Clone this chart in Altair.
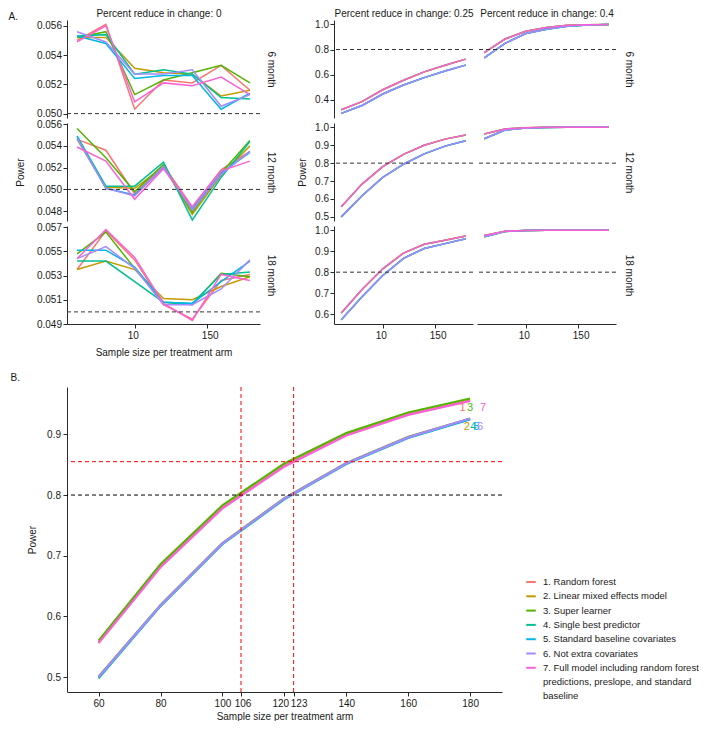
import altair as alt
import pandas as pd

FONT = "Liberation Sans"
INK = "#1a1a1a"
AXIS_INK = "#2b2b2b"

# ---------------- shared categories ----------------
sample_sizes = [60, 80, 100, 120, 140, 160, 180]
model_names = [
    "1. Random forest",
    "2. Linear mixed effects model",
    "3. Super learner",
    "4. Single best predictor",
    "5. Standard baseline covariates",
    "6. Not extra covariates",
    "7. Full model including random forest",
]
legend_continuation = ["predictions, preslope, and standard", "baseline"]
model_tags = ["1", "2", "3", "4", "5", "6", "7"]
model_colors = ["#F8766D", "#C49A00", "#53B400", "#00C094", "#00B6EB", "#A58AFF", "#FB61D7"]
period_labels = ["6 month", "12 month", "18 month"]
reduction_titles = [
    "Percent reduce in change: 0",
    "Percent reduce in change: 0.25",
    "Percent reduce in change: 0.4",
]
panel_tags = ["A.", "B."]

# ---------------- A, column 1: percent reduce in change 0 (one list per model) ----------------
power_r0_6m = [
    [0.0550, 0.0561, 0.0503, 0.0523, 0.0521, 0.0533, 0.0516],
    [0.0552, 0.0552, 0.0531, 0.0528, 0.0527, 0.0512, 0.0516],
    [0.0552, 0.0556, 0.0513, 0.0523, 0.0528, 0.0533, 0.0521],
    [0.0553, 0.0554, 0.0527, 0.0530, 0.0527, 0.0511, 0.0510],
    [0.0553, 0.0548, 0.0524, 0.0526, 0.0526, 0.0503, 0.0514],
    [0.0556, 0.0549, 0.0527, 0.0527, 0.0530, 0.0505, 0.0513],
    [0.0549, 0.0560, 0.0508, 0.0521, 0.0519, 0.0525, 0.0513],
]
power_r0_12m = [
    [0.0546, 0.0536, 0.0496, 0.0522, 0.0484, 0.0518, 0.0535],
    [0.0546, 0.0502, 0.0501, 0.0521, 0.0477, 0.0513, 0.0540],
    [0.0556, 0.0529, 0.0498, 0.0523, 0.0479, 0.0515, 0.0545],
    [0.0549, 0.0503, 0.0503, 0.0525, 0.0472, 0.0511, 0.0544],
    [0.0549, 0.0501, 0.0495, 0.0520, 0.0482, 0.0515, 0.0534],
    [0.0547, 0.0501, 0.0494, 0.0521, 0.0481, 0.0514, 0.0535],
    [0.0539, 0.0526, 0.0491, 0.0519, 0.0484, 0.0517, 0.0526],
]
power_r0_18m = [
    [0.0535, 0.0567, 0.0543, 0.0506, 0.0494, 0.0526, 0.0531],
    [0.0535, 0.0542, 0.0535, 0.0511, 0.0510, 0.0521, 0.0529],
    [0.0548, 0.0566, 0.0536, 0.0508, 0.0506, 0.0532, 0.0529],
    [0.0542, 0.0542, 0.0525, 0.0508, 0.0507, 0.0531, 0.0533],
    [0.0551, 0.0551, 0.0537, 0.0508, 0.0507, 0.0525, 0.0542],
    [0.0544, 0.0554, 0.0536, 0.0506, 0.0506, 0.0519, 0.0543],
    [0.0544, 0.0568, 0.0545, 0.0507, 0.0493, 0.0531, 0.0526],
]
ydomain_r0 = [[0.0497, 0.0564], [0.0471, 0.0561], [0.0490, 0.0571]]
yticks_r0 = [
    [0.050, 0.052, 0.054, 0.056],
    [0.048, 0.050, 0.052, 0.054, 0.056],
    [0.049, 0.051, 0.053, 0.055, 0.057],
]
null_line = 0.05

# ---------------- A, columns 2-3: two visible curve bundles ----------------
model_curve_group = ["high", "low", "high", "low", "low", "low", "high"]
r025_6m_high = [0.322, 0.387, 0.481, 0.556, 0.623, 0.675, 0.724]
r025_6m_low = [0.294, 0.356, 0.447, 0.519, 0.577, 0.629, 0.676]
r04_6m_high = [0.776, 0.883, 0.945, 0.974, 0.992, 0.997, 0.999]
r04_6m_low = [0.734, 0.849, 0.927, 0.961, 0.984, 0.995, 0.998]
r025_12m_high = [0.557, 0.683, 0.780, 0.849, 0.900, 0.934, 0.957]
r025_12m_low = [0.500, 0.618, 0.720, 0.794, 0.852, 0.895, 0.925]
r04_12m_high = [0.963, 0.991, 0.998, 1.000, 1.000, 1.000, 1.000]
r04_12m_low = [0.936, 0.985, 0.996, 0.999, 1.000, 1.000, 1.000]
r025_18m_high = [0.605, 0.717, 0.816, 0.891, 0.933, 0.952, 0.972]
r025_18m_low = [0.573, 0.683, 0.784, 0.866, 0.913, 0.936, 0.959]
r04_18m_high = [0.975, 0.995, 0.999, 1.000, 1.000, 1.000, 1.000]
r04_18m_low = [0.969, 0.994, 0.998, 1.000, 1.000, 1.000, 1.000]
ydomain_pos = [[0.257, 1.034], [0.477, 1.024], [0.553, 1.020]]
yticks_pos = [
    [0.4, 0.6, 0.8, 1.0],
    [0.5, 0.6, 0.7, 0.8, 0.9, 1.0],
    [0.6, 0.7, 0.8, 0.9, 1.0],
]
target_power = 0.8
top_x_ticks = [100, 150]
top_x_tick_labels = ["10", "150"]
top_x_label_shift = [-2, 3]
top_x_domain = [53, 187]

# ---------------- B: 12 month, percent reduce 0.25 ----------------
powerB = [
    [0.557, 0.682, 0.779, 0.848, 0.899, 0.933, 0.956],
    [0.501, 0.619, 0.721, 0.795, 0.853, 0.896, 0.926],
    [0.560, 0.686, 0.783, 0.852, 0.902, 0.936, 0.959],
    [0.498, 0.617, 0.719, 0.793, 0.851, 0.894, 0.925],
    [0.500, 0.618, 0.720, 0.794, 0.852, 0.895, 0.925],
    [0.500, 0.618, 0.720, 0.794, 0.852, 0.895, 0.926],
    [0.556, 0.681, 0.778, 0.847, 0.898, 0.932, 0.955],
]
tag_x = [177.6, 178.9, 180.0, 181.0, 182.1, 183.2, 184.2]
tag_y = [0.9436, 0.9126, 0.9436, 0.9126, 0.9126, 0.9126, 0.9436]
B_x_ticks = [60, 80, 100, 106, 120, 123, 140, 160, 180]
B_x_label_shift = [0, 0, 0, 1.5, -4, 5, 0, 0, 0]
B_y_ticks = [0.5, 0.6, 0.7, 0.8, 0.9]
B_x_domain = [49.8, 190.3]
B_y_domain = [0.4755, 0.978]
red_vlines = [106, 123]
red_hline = 0.855
B_x_title = "Sample size per treatment arm"
B_y_title = "Power"

color_scale = alt.Scale(
    domain=model_names + legend_continuation,
    range=model_colors + ["transparent", "transparent"],
)

ROW_H = 98


def long_df(series_list):
    rows = []
    for m, vals in zip(model_names, series_list):
        for n, v in zip(sample_sizes, vals):
            rows.append({"model": m, "n": n, "power": v})
    return pd.DataFrame(rows)


def grouped(high, low):
    return [high if g == "high" else low for g in model_curve_group]


def label_expr(values, labels):
    expr = "''"
    for v, l in reversed(list(zip(values, labels))):
        expr = f"datum.value == {v} ? '{l}' : {expr}"
    return expr


def label_shift(values, shifts):
    conds = [{"test": f"datum.value == {v}", "value": s} for v, s in zip(values, shifts) if s != 0]
    return {"condition": conds, "value": 0}


def header_axis(text, tx, ty, align):
    # a title-only top axis used as a strip header / panel tag
    return alt.Axis(orient="top", title=text, labels=False, ticks=False, domain=False,
                    titleX=tx, titleY=ty, titleAlign=align, titleBaseline="alphabetic",
                    titleAngle=0, titleFontSize=10)


def panel(df, hline, ydomain, yticks, yfmt, width, left_axis, y_title, y_title_pad,
          right_title, right_pad, bottom, x_title, top_title, title_dx=0, tag=None):
    xscale = alt.Scale(domain=top_x_domain, nice=False, zero=False)
    yscale = alt.Scale(domain=ydomain, nice=False, zero=False)
    if bottom:
        xaxis = alt.Axis(values=top_x_ticks, labelExpr=label_expr(top_x_ticks, top_x_tick_labels),
                         labelOffset=label_shift(top_x_ticks, top_x_label_shift),
                         title=x_title, labelFlush=False, labelOverlap=False,
                         titlePadding=7, labelPadding=2)
    elif top_title:
        xaxis = header_axis(top_title, width / 2 + title_dx, -4, "center")
    else:
        xaxis = None
    if left_axis:
        if tag:
            yaxis = alt.Axis(values=yticks, format=yfmt, title=tag, titleX=-59, titleY=-1,
                             titleAlign="left", titleBaseline="alphabetic", titleAngle=0,
                             labelPadding=1.5, labelOverlap=False)
        else:
            yaxis = alt.Axis(values=yticks, format=yfmt, title=y_title, titlePadding=y_title_pad,
                             labelPadding=1.5, labelOverlap=False)
    else:
        yaxis = None
    if right_title:
        raxis = alt.Axis(orient="right", title=right_title, labels=False, ticks=False,
                         domain=False, titlePadding=right_pad, titleAngle=90)
    else:
        raxis = None
    lines = alt.Chart(df).mark_line(strokeWidth=1.5).encode(
        x=alt.X("n:Q", scale=xscale, axis=xaxis),
        y=alt.Y("power:Q", scale=yscale, axis=yaxis),
        color=alt.Color("model:N", scale=color_scale, legend=None),
    )
    rule = alt.Chart(pd.DataFrame({"h": [hline]})).mark_rule(
        strokeDash=[4, 3], color="#333333", strokeWidth=1
    ).encode(y=alt.Y("h:Q", scale=yscale, axis=raxis))
    return alt.layer(lines, rule).resolve_axis(y="independent").properties(width=width, height=ROW_H)


W1, W2 = 193, 139
r0_data = [power_r0_6m, power_r0_12m, power_r0_18m]
pos_data = [
    (grouped(r025_6m_high, r025_6m_low), grouped(r04_6m_high, r04_6m_low)),
    (grouped(r025_12m_high, r025_12m_low), grouped(r04_12m_high, r04_12m_low)),
    (grouped(r025_18m_high, r025_18m_low), grouped(r04_18m_high, r04_18m_low)),
]

left_panels = []
right_panels = []
for i in range(3):
    left_panels.append(panel(
        long_df(r0_data[i]), null_line, ydomain_r0[i], yticks_r0[i], ".3f", W1,
        True, "Power" if i == 1 else None, 11,
        period_labels[i], 5, i == 2, "Sample size per treatment arm" if i == 2 else None,
        reduction_titles[0] if i == 0 else None, title_dx=-5,
        tag=panel_tags[0] if i == 0 else None,
    ))
    right_panels.append(panel(
        long_df(pos_data[i][0]), target_power, ydomain_pos[i], yticks_pos[i], ".1f", W2,
        True, "Power" if i == 1 else None, 7,
        None, 0, i == 2, None,
        reduction_titles[1] if i == 0 else None,
    ))
    right_panels.append(panel(
        long_df(pos_data[i][1]), target_power, ydomain_pos[i], yticks_pos[i], ".1f", W2,
        False, None, 0,
        period_labels[i], 7, i == 2, None,
        reduction_titles[2] if i == 0 else None,
    ))

left_block = alt.vconcat(*left_panels, spacing=5, bounds="flush")
right_block = alt.concat(*right_panels, columns=2, spacing={"row": 5, "column": 4}, bounds="flush")
top_block = alt.hconcat(left_block, right_block, spacing=22)

# ---------------- B ----------------
xB = alt.Scale(domain=B_x_domain, nice=False, zero=False)
yB = alt.Scale(domain=B_y_domain, nice=False, zero=False)
linesB = alt.Chart(long_df(powerB)).mark_line(strokeWidth=2.2).encode(
    x=alt.X("n:Q", scale=xB, title=B_x_title,
            axis=alt.Axis(orient="bottom", values=B_x_ticks, labelOverlap=False, labelFlush=False,
                          titlePadding=3, labelPadding=2,
                          labelOffset=label_shift(B_x_ticks, B_x_label_shift))),
    y=alt.Y("power:Q", scale=yB, title=B_y_title,
            axis=alt.Axis(values=B_y_ticks, format=".1f", titlePadding=9, labelPadding=2.5)),
    color=alt.Color("model:N", scale=color_scale, legend=alt.Legend(
        title=None, orient="none", legendX=458, legendY=189, symbolType="stroke",
        symbolStrokeWidth=2, symbolSize=90, labelFontSize=9.5, labelFont=FONT, labelColor=INK,
        rowPadding=3.3, labelOffset=6, padding=0, labelLimit=400,
    )),
)
tagsB = alt.Chart(pd.DataFrame({"model": model_names, "tag": model_tags, "lx": tag_x, "ly": tag_y})).mark_text(
    fontSize=11, font=FONT
).encode(
    x=alt.X("lx:Q", scale=xB, axis=None),
    y=alt.Y("ly:Q", scale=yB, title=B_y_title),
    text="tag:N",
    color=alt.Color("model:N", scale=color_scale, legend=None),
)
blackB = alt.Chart(pd.DataFrame({"y": [target_power]})).mark_rule(
    color="black", strokeDash=[4, 3], strokeWidth=1
).encode(y=alt.Y("y:Q", scale=yB, title=B_y_title))
redhB = alt.Chart(pd.DataFrame({"y": [red_hline]})).mark_rule(
    color="red", strokeDash=[4, 3], strokeWidth=1
).encode(y=alt.Y("y:Q", scale=yB, title=B_y_title))
redvB = alt.Chart(pd.DataFrame({"x": red_vlines})).mark_rule(
    color="red", strokeDash=[4, 3], strokeWidth=1
).encode(x=alt.X("x:Q", scale=xB, axis=header_axis(panel_tags[1], -57, -7, "left")))

chartB = alt.layer(linesB, blackB, redhB, redvB, tagsB).resolve_axis(x="independent").properties(
    width=435, height=305,
)

chart = alt.vconcat(top_block, chartB, spacing=15).resolve_scale(color="independent").properties(
    padding=0
).configure(
    background="white", padding=0
).configure_view(stroke=None).configure_axis(
    labelFont=FONT, titleFont=FONT, labelFontSize=10, titleFontSize=10, titleFontWeight="normal",
    labelColor=INK, titleColor=INK, domainColor=AXIS_INK, tickColor=AXIS_INK, grid=False,
    tickSize=4, domainWidth=1, tickWidth=1,
).configure_title(
    font=FONT, fontSize=10, fontWeight="normal", color=INK
)

chart.save("out.html", embed_options={"renderer": "svg", "actions": False})
